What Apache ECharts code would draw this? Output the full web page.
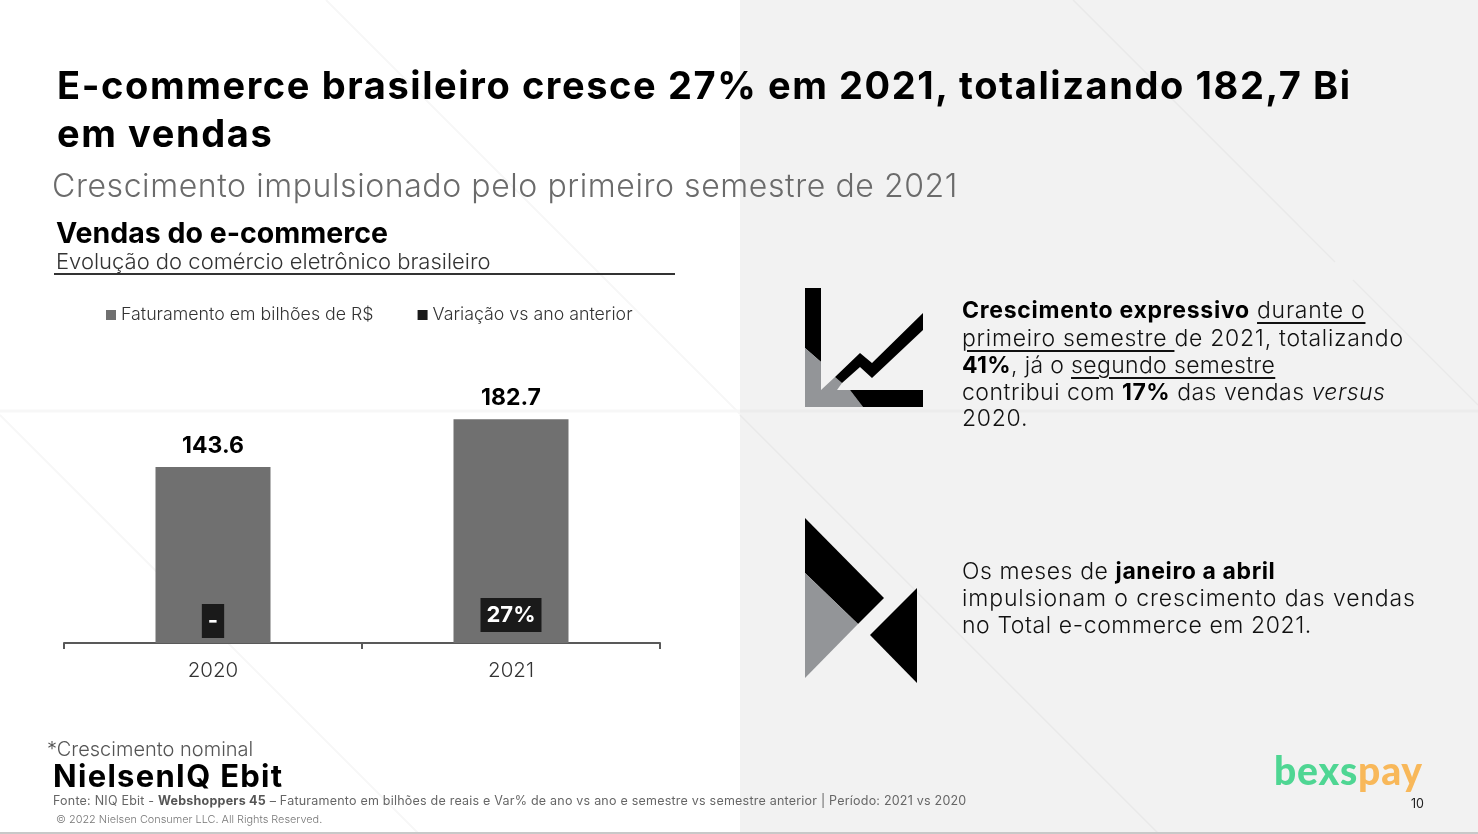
<!DOCTYPE html>
<html lang="pt-BR">
<head>
    <meta charset="UTF-8">
    <title>E-commerce brasileiro</title>
    <script src="https://cdn.jsdelivr.net/npm/echarts@6/dist/echarts.min.js"></script>
    <style>
        html, body { margin: 0; padding: 0; background: #fff; }
        body { width: 1478px; height: 834px; overflow: hidden; position: relative; font-family: Inter, "Open Sans", sans-serif; }
        #chart { position: absolute; left: 0; top: 0; width: 1478px; height: 834px; }
        .t { position: absolute; white-space: nowrap; line-height: 1; }
        .t b { font-weight: 700; color: #000; }
        .t u { text-underline-offset: 4px; text-decoration-thickness: 2px; }
        .head { left: 57px; font-size: 38px; font-weight: 700; color: #000; letter-spacing: 1.6px; }
        .sub { left: 52px; top: 170px; font-size: 32px; font-weight: 300; color: #6b6b6b; letter-spacing: 0.58px; }
        .note { left: 962px; font-size: 23px; font-weight: 300; color: #111; letter-spacing: 0.72px; }
    </style>
</head>
<body>
    <div id="chart"></div>

    <div class="t head" style="top:66px">E-commerce brasileiro cresce 27% em 2021, totalizando 182,7 Bi</div>
    <div class="t head" style="top:114px">em vendas</div>
    <div class="t sub">Crescimento impulsionado pelo primeiro semestre de 2021</div>

    <div class="t note" style="top:299px"><b>Crescimento expressivo</b> <u>durante o</u></div>
    <div class="t note" style="top:327px"><u>primeiro semestre </u>de 2021, totalizando</div>
    <div class="t note" style="top:354px;letter-spacing:0.35px"><b>41%</b>, já o <u>segundo semestre</u></div>
    <div class="t note" style="top:381px;letter-spacing:0.5px">contribui com <b>17%</b> das vendas <i>versus</i></div>
    <div class="t note" style="top:407px">2020.</div>

    <div class="t note" style="top:560px;letter-spacing:0.6px">Os meses de <b>janeiro a abril</b></div>
    <div class="t note" style="top:587px;letter-spacing:0.88px">impulsionam o crescimento das vendas</div>
    <div class="t note" style="top:614px;letter-spacing:0.58px">no Total e-commerce em 2021.</div>

    <div class="t" style="left:47px;top:739px;font-size:20px;font-weight:300;color:#555">*Crescimento nominal</div>
    <div class="t" style="left:53px;top:760px;font-size:31px;font-weight:700;color:#000;letter-spacing:1.3px">NielsenIQ Ebit</div>
    <div class="t" style="left:53px;top:795px;font-size:12.5px;font-weight:400;color:#666;letter-spacing:0.22px">Fonte: NIQ Ebit - <b style="color:#555">Webshoppers 45</b> – Faturamento em bilhões de reais e Var% de ano vs ano e semestre vs semestre anterior | Período: 2021 vs 2020</div>
    <div class="t" style="left:56px;top:814px;font-size:10.9px;font-weight:300;color:#777">© 2022 Nielsen Consumer LLC. All Rights Reserved.</div>

    <div class="t" style="left:1274px;top:751px;font-size:39px;font-weight:900;font-family:Lato,Inter,sans-serif;letter-spacing:0.8px"><span style="color:#4fd693">bexs</span><span style="color:#f8b85a">pay</span></div>
    <div class="t" style="left:1411px;top:798px;font-size:12.5px;color:#222">10</div>

    <script>
        const years = ['2020', '2021'];
        const revenue = [143.6, 182.7];
        const variation = ['-', '27%'];
        const legendNames = ['Faturamento em bilhões de R$', 'Variação vs ano anterior'];

        const GREY = '#707070';
        const DARK = '#1a1a1a';
        const FONT = 'Inter, "Open Sans", sans-serif';

        // backdrop and icons, in page pixels
        function poly(points, fill) {
            return { type: 'polygon', silent: true, shape: { points: points }, style: { fill: fill } };
        }
        function seg(x1, y1, x2, y2, stroke, w) {
            return { type: 'line', silent: true, shape: { x1: x1, y1: y1, x2: x2, y2: y2 }, style: { stroke: stroke, lineWidth: w } };
        }
        const backdrop = [
            { type: 'rect', silent: true, shape: { x: 740, y: 0, width: 738, height: 834 }, style: { fill: '#f2f2f2' } },
            seg(326, 0, 740, 414, '#f7f7f7', 2),
            seg(0, 415, 419, 834, '#f7f7f7', 2),
            seg(0, 411, 740, 411, '#f7f7f7', 3),
            seg(1073, 0, 1335, 262, '#e9e9e9', 1.5),
            seg(1353, 280, 1478, 405, '#e9e9e9', 1.5),
            seg(740, 415, 1159, 834, '#e9e9e9', 1.5),
            seg(740, 411, 1478, 411, '#ececec', 3),
            seg(0, 833, 1478, 833, '#c8c8c8', 2)
        ];
        const icons = [
            poly([[805, 288], [821, 288], [821, 362], [805, 348]], '#000'),
            poly([[805, 348], [821, 362], [821, 390], [835, 377], [842, 383], [837, 390], [850, 390], [863, 407], [805, 407]], '#939598'),
            poly([[850, 390], [923, 390], [923, 407], [863, 407]], '#000'),
            poly([[835, 377], [860, 353], [872, 363], [923, 313], [923, 330], [872, 378], [860, 367], [842, 383]], '#000'),
            poly([[805, 518], [884, 598], [858, 624], [805, 573]], '#000'),
            poly([[805, 573], [858, 624], [805, 678]], '#939598'),
            poly([[917, 588], [917, 683], [870, 635]], '#000')
        ];
        const headRule = seg(54, 274, 675, 274, '#333', 2);

        const chart = echarts.init(document.getElementById('chart'), null, { renderer: 'canvas' });
        chart.setOption({
            animation: false,
            backgroundColor: 'transparent',
            graphic: { elements: backdrop.concat(icons, [headRule]) },
            title: {
                text: 'Vendas do e-commerce',
                subtext: 'Evolução do comércio eletrônico brasileiro',
                left: 51,
                top: 215,
                itemGap: 2,
                textStyle: { fontFamily: FONT, fontSize: 28.5, fontWeight: 700, color: '#000' },
                subtextStyle: { fontFamily: FONT, fontSize: 22, fontWeight: 300, color: '#333' }
            },
            legend: {
                left: 101,
                top: 301,
                itemWidth: 10,
                itemHeight: 10,
                itemGap: 44,
                icon: 'rect',
                textStyle: { fontFamily: FONT, fontSize: 17.8, fontWeight: 300, color: '#333' },
                data: [
                    { name: legendNames[0], itemStyle: { color: GREY } },
                    { name: legendNames[1], itemStyle: { color: DARK } }
                ]
            },
            grid: { left: 64, top: 398, width: 596, height: 245 },
            xAxis: {
                type: 'category',
                data: years,
                axisLine: { lineStyle: { color: '#595959', width: 2 } },
                axisTick: { show: true, length: 6, lineStyle: { color: '#595959', width: 2 } },
                axisLabel: { fontFamily: FONT, fontSize: 20.5, fontWeight: 300, color: '#333', margin: 17 }
            },
            yAxis: { type: 'value', min: 0, max: 200, show: false, splitLine: { show: false } },
            series: [
                {
                    name: legendNames[0],
                    type: 'bar',
                    barWidth: 115,
                    barGap: '-100%',
                    data: revenue,
                    itemStyle: { color: GREY },
                    label: {
                        show: true,
                        position: 'top',
                        distance: 10,
                        fontFamily: FONT,
                        fontSize: 23,
                        fontWeight: 700,
                        color: '#000',
                        formatter: p => p.value.toFixed(1)
                    }
                },
                {
                    // invisible twin of the bars, only carries the variation tag
                    name: legendNames[1],
                    type: 'bar',
                    barWidth: 115,
                    barGap: '-100%',
                    data: revenue.map((v, i) => ({
                        value: v,
                        label: i === 0
                            ? { distance: 5, padding: [6, 6, 6, 6] }
                            : { distance: 11, padding: [6, 6, 6, 6] }
                    })),
                    itemStyle: { color: 'transparent' },
                    label: {
                        show: true,
                        position: 'insideBottom',
                        fontFamily: FONT,
                        fontSize: 22,
                        fontWeight: 700,
                        color: '#fff',
                        backgroundColor: DARK,
                        formatter: p => variation[p.dataIndex]
                    }
                }
            ]
        });
    </script>
</body>
</html>
